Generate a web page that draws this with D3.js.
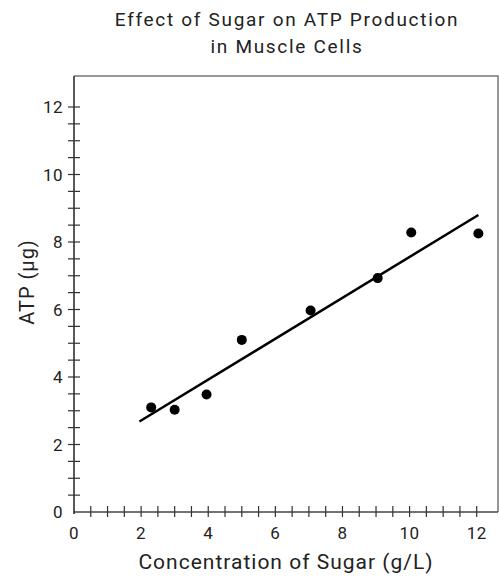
<!DOCTYPE html>
<html>
<head>
<meta charset="utf-8">
<script src="https://cdn.jsdelivr.net/npm/d3@7"></script>
<style>
  body { margin: 0; background: #fff; }
  text { font-family: Roboto, "DejaVu Sans", sans-serif; fill: #222; }
</style>
</head>
<body>
<script>

// Measured points.
var sugar = [2.3, 3, 3.95, 5, 7.05, 9.05, 10.05, 12.05];
var atp = [3.1, 3.03, 3.48, 5.1, 5.97, 6.93, 8.28, 8.25];

// Best-fit line end points.
var fitX = [1.95, 12.05];
var fitY = [2.68, 8.8];

var xTicks = [0, 2, 4, 6, 8, 10, 12];
var yTicks = [0, 2, 4, 6, 8, 10, 12];

var title = ['Effect of Sugar on ATP Production', 'in Muscle Cells'];
var xTitle = 'Concentration of Sugar (g/L)';
var yTitle = 'ATP (\u00b5g)';


(function() {

  var W = 499, H = 578;
  var x0 = 74, x1 = 476.7, top = 76, right = 498;
  var y0 = 512, y12 = 107;

  var svg = d3.select('body').append('svg')
    .attr('width', W).attr('height', H);

  var x = d3.scaleLinear().domain([0, 12]).range([x0, x1]);
  var y = d3.scaleLinear().domain([0, 12]).range([y0, y12]);

  // Frame, top and right.
  svg.append('path')
    .attr('d', 'M' + x0 + ',' + top + 'H' + right + 'V' + y0)
    .attr('fill', 'none')
    .attr('stroke', '#777')
    .attr('stroke-width', 1.5);

  // Minor + major ticks every 0.5, crossing the axis.
  var half = d3.range(0, 12.01, 0.5);

  var xa = svg.append('g').attr('transform', 'translate(0,' + y0 + ')');
  xa.append('line')
    .attr('x1', x0).attr('x2', right)
    .attr('stroke', '#444').attr('stroke-width', 1.5);
  xa.selectAll('.tk').data(half.slice(1)).enter().append('line')
    .attr('x1', x).attr('x2', x)
    .attr('y1', -6).attr('y2', 5)
    .attr('stroke', '#333').attr('stroke-width', 1.2);
  xa.selectAll('.lb').data(xTicks).enter().append('text')
    .attr('x', x).attr('y', 27)
    .attr('text-anchor', 'middle')
    .style('font-size', '17px')
    .style('letter-spacing', '0.5px')
    .text(function(d) { return d; });

  var ya = svg.append('g').attr('transform', 'translate(' + x0 + ',0)');
  ya.append('line')
    .attr('y1', top).attr('y2', y0 + 2)
    .attr('stroke', '#222').attr('stroke-width', 1.5);
  ya.selectAll('.tk').data(half.slice(1)).enter().append('line')
    .attr('y1', y).attr('y2', y)
    .attr('x1', -6).attr('x2', 6)
    .attr('stroke', '#333').attr('stroke-width', 1.2);
  ya.selectAll('.lb').data(yTicks).enter().append('text')
    .attr('x', -11).attr('y', function(d) { return y(d) + 6; })
    .attr('text-anchor', 'end')
    .style('font-size', '17px')
    .style('letter-spacing', '0.5px')
    .text(function(d) { return d; });

  // Fit line.
  svg.append('line')
    .attr('x1', x(fitX[0])).attr('y1', y(fitY[0]))
    .attr('x2', x(fitX[1])).attr('y2', y(fitY[1]))
    .attr('stroke', '#000').attr('stroke-width', 2.5);

  // Points.
  svg.selectAll('.pt').data(sugar).enter().append('circle')
    .attr('cx', function(d) { return x(d); })
    .attr('cy', function(d, i) { return y(atp[i]); })
    .attr('r', 5)
    .attr('fill', '#000');

  // Titles.
  svg.selectAll('.ttl').data(title).enter().append('text')
    .attr('x', 287).attr('y', function(d, i) { return 26 + i * 27; })
    .attr('text-anchor', 'middle')
    .style('font-size', '19px')
    .style('letter-spacing', '1.7px')
    .text(function(d) { return d; });

  svg.append('text')
    .attr('x', 286).attr('y', 569)
    .attr('text-anchor', 'middle')
    .style('font-size', '21px')
    .style('letter-spacing', '1px')
    .text(xTitle);

  svg.append('text')
    .attr('transform', 'translate(34,282) rotate(-90)')
    .attr('text-anchor', 'middle')
    .style('font-size', '20px')
    .style('letter-spacing', '1px')
    .text(yTitle);

})();

</script>
</body>
</html>
